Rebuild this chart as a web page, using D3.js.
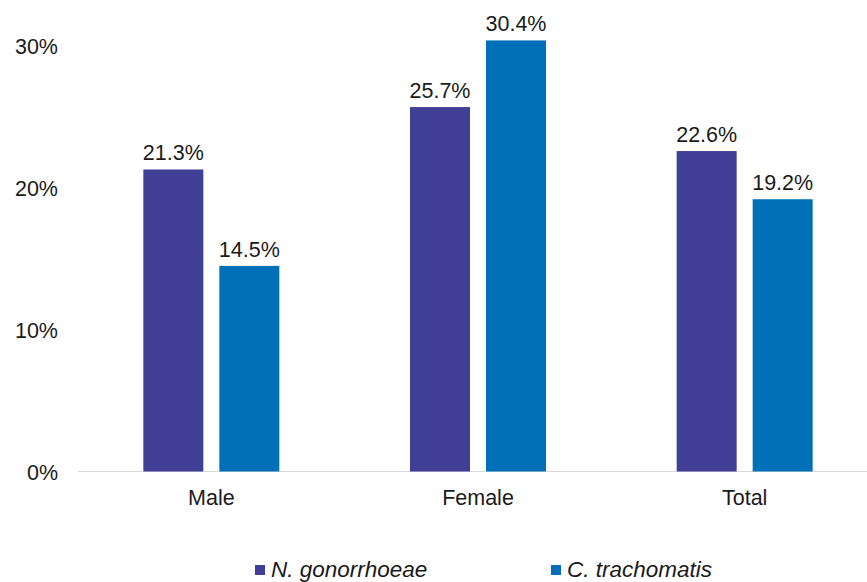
<!DOCTYPE html>
<html>
<head>
<meta charset="utf-8">
<script src="https://cdn.jsdelivr.net/npm/d3@7"></script>
<style>
  html, body { margin: 0; padding: 0; background: #fff; }
  svg { display: block; font-family: "Liberation Sans", Arial, sans-serif; }
</style>
</head>
<body>
<svg id="chart" width="867" height="582"></svg>
<script>
// Positivity by sex for the two organisms
const categories = ["Male", "Female", "Total"];
const seriesNames = ["N. gonorrhoeae", "C. trachomatis"];
const gonorrhoeae = [21.3, 25.7, 22.6];
const trachomatis = [14.5, 30.4, 19.2];
const yTicks = [0, 10, 20, 30];
const colors = ["#403f95", "#0071b9"];

const seriesValues = [gonorrhoeae, trachomatis];
const fontSize = 21.5;
const legendFontSize = 22.5;

const svg = d3.select("#chart");
const plotLeft = 78, plotRight = 878, plotBottom = 471.5;

const x0 = d3.scaleBand().domain(categories).range([plotLeft, plotRight]).padding(0);
const y = d3.scaleLinear().domain([0, 30]).range([plotBottom, plotBottom - 30 * 14.18]);

// Baseline
svg.append("line")
  .attr("x1", plotLeft).attr("x2", 867)
  .attr("y1", plotBottom).attr("y2", plotBottom)
  .attr("stroke", "#d9d9d9").attr("stroke-width", 1.2);

// Y tick labels
const yAxis = d3.axisLeft(y).tickValues(yTicks).tickSize(0).tickPadding(0)
  .tickFormat(d => d + "%");
const gy = svg.append("g").attr("transform", "translate(58,0)").call(yAxis);
gy.select(".domain").remove();
gy.selectAll("text")
  .attr("font-family", "Liberation Sans, Arial, sans-serif")
  .attr("font-size", fontSize).attr("fill", "#1a1a1a").attr("dy", "0.35em");

// Category labels
const xAxis = d3.axisBottom(x0).tickSize(0).tickPadding(0);
const gx = svg.append("g").attr("transform", `translate(0,${plotBottom})`).call(xAxis);
gx.select(".domain").remove();
gx.selectAll("text")
  .attr("font-family", "Liberation Sans, Arial, sans-serif")
  .attr("font-size", fontSize).attr("fill", "#1a1a1a")
  .attr("dy", null).attr("y", 33.5);

// Bars and value labels
const groupWidth = 136;
categories.forEach((cat, ci) => {
  const cx = x0(cat) + x0.bandwidth() / 2;
  const x1 = d3.scaleBand().domain(seriesNames)
    .range([cx - groupWidth / 2, cx + groupWidth / 2])
    .paddingInner(0.2105).paddingOuter(0);
  seriesNames.forEach((s, si) => {
    const v = seriesValues[si][ci];
    svg.append("rect")
      .attr("x", x1(s)).attr("width", x1.bandwidth())
      .attr("y", y(v)).attr("height", y(0) - y(v))
      .attr("fill", colors[si]);
    svg.append("text")
      .attr("x", x1(s) + x1.bandwidth() / 2)
      .attr("y", y(v) - 9)
      .attr("text-anchor", "middle")
      .attr("font-size", fontSize).attr("fill", "#1a1a1a")
      .text(v.toFixed(1) + "%");
  });
});

// Legend
const legendX = [255, 551];
seriesNames.forEach((s, i) => {
  const g = svg.append("g").attr("transform", `translate(${legendX[i]},565)`);
  g.append("rect").attr("width", 10).attr("height", 10).attr("fill", colors[i]);
  g.append("text").attr("x", 16).attr("y", 12)
    .attr("font-size", legendFontSize).attr("font-style", "italic").attr("fill", "#1a1a1a")
    .text(s);
});
</script>
</body>
</html>
